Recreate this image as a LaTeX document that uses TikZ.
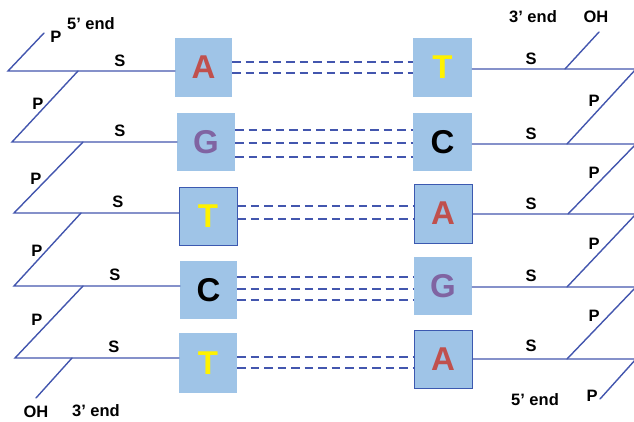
\documentclass[tikz,border=0pt]{standalone}
\usepackage{fontspec}
\setmainfont{Liberation Sans}
\definecolor{strandblue}{HTML}{4356AE}
\definecolor{boxblue}{HTML}{9FC4E7}
\definecolor{frameblue}{HTML}{3C59B0}
\definecolor{ared}{HTML}{C0504D}
\definecolor{gpurple}{HTML}{8064A2}
\definecolor{tyellow}{HTML}{FFF200}
\begin{document}
\begin{tikzpicture}[x=1pt,y=-1pt,
  strand/.style={draw=strandblue, line width=1.4pt, line cap=round},
  hbond/.style={draw=strandblue, line width=1.4pt, dash pattern=on 8.5pt off 5pt},
  base/.style={fill=boxblue, minimum width=58pt, minimum height=58pt, inner sep=0pt,
    font=\bfseries\fontsize{33}{33}\selectfont},
  framed/.style={draw=frameblue, line width=0.9pt},
  lbl/.style={font=\bfseries\fontsize{16.5}{16.5}\selectfont, inner sep=0pt}]
\useasboundingbox (0,0) rectangle (634,422);

% base boxes
\node[base, text=ared, minimum width=57pt, minimum height=59pt] (L1) at (203.5,67.5) {A};
\node[base, text=gpurple] (L2) at (206,142) {G};
\node[base, framed, text=tyellow] (L3) at (208,216) {T};
\node[base, text=black, minimum width=57pt] (L4) at (208.5,290) {C};
\node[base, text=tyellow, minimum height=60pt] (L5) at (208,363) {T};
\node[base, text=tyellow, minimum width=59pt, minimum height=59pt] (R1) at (442.5,67.5) {T};
\node[base, text=black, minimum width=59pt] (R2) at (442.5,142) {C};
\node[base, framed, text=ared, minimum height=59pt] (R3) at (443,213.5) {A};
\node[base, text=gpurple] (R4) at (443,286) {G};
\node[base, framed, text=ared] (R5) at (443,359) {A};

% left strand coordinates
\coordinate (a0) at (44,33);
\coordinate (a1s) at (8,71);   \coordinate (a1j) at (78,71);
\coordinate (a2s) at (12,142); \coordinate (a2j) at (83,142);
\coordinate (a3s) at (14,213); \coordinate (a3j) at (81,213);
\coordinate (a4s) at (14,286); \coordinate (a4j) at (83,286);
\coordinate (a5s) at (15,358); \coordinate (a5j) at (72,358);
\coordinate (a6) at (36,398);

\draw[strand] (a0) -- (a1s) -- (L1.west |- a1s);
\draw[strand] (a1j) -- (a2s) -- (L2.west |- a2s);
\draw[strand] (a2j) -- (a3s) -- (L3.west |- a3s);
\draw[strand] (a3j) -- (a4s) -- (L4.west |- a4s);
\draw[strand] (a4j) -- (a5s) -- (L5.west |- a5s);
\draw[strand] (a5j) -- (a6);

% right strand coordinates
\coordinate (b0) at (599,32);
\coordinate (b1e) at (636,69);  \coordinate (b1j) at (565,69);
\coordinate (b2e) at (636,144); \coordinate (b2j) at (567,144);
\coordinate (b3e) at (636,214); \coordinate (b3j) at (568,214);
\coordinate (b4e) at (636,287); \coordinate (b4j) at (567,287);
\coordinate (b5e) at (636,359); \coordinate (b5j) at (567,359);
\coordinate (b6) at (600,399);

\draw[strand] (R1.east |- b1e) -- (b1e) -- (b2j);
\draw[strand] (b1j) -- (b0);
\draw[strand] (R2.east |- b2e) -- (b2e) -- (b3j);
\draw[strand] (R3.east |- b3e) -- (b3e) -- (b4j);
\draw[strand] (R4.east |- b4e) -- (b4e) -- (b5j);
\draw[strand] (R5.east |- b5e) -- (b5e) -- (b6);

% hydrogen bonds
\foreach \y in {62,73} \draw[hbond] (L1.east |- 0,\y) -- (R1.west |- 0,\y);
\foreach \y in {130,143,157} \draw[hbond] (L2.east |- 0,\y) -- (R2.west |- 0,\y);
\foreach \y in {206,219} \draw[hbond] (L3.east |- 0,\y) -- (R3.west |- 0,\y);
\foreach \y in {277,289,300} \draw[hbond] (L4.east |- 0,\y) -- (R4.west |- 0,\y);
\foreach \y in {357,368} \draw[hbond] (L5.east |- 0,\y) -- (R5.west |- 0,\y);

% end labels
\node[lbl] (p0) at (56,37) {P};
\node[lbl] (e5l) at (91,24) {5’ end};
\node[lbl] (e3r) at (533,17) {3’ end};
\node[lbl] (ohr) at (596,17) {OH};
\node[lbl] (ohl) at (36,412) {OH};
\node[lbl] (e3l) at (96,411) {3’ end};
\node[lbl] (e5r) at (535,400) {5’ end};
\node[lbl] (p6) at (592,396) {P};

% left P labels
\node[lbl] (lp1) at (38,104) {P};
\node[lbl] (lp2) at (36,179) {P};
\node[lbl] (lp3) at (37,251) {P};
\node[lbl] (lp4) at (37,320) {P};
% left S labels
\node[lbl] (ls1) at (120,61) {S};
\node[lbl] (ls2) at (120,131) {S};
\node[lbl] (ls3) at (118,202) {S};
\node[lbl] (ls4) at (115,275) {S};
\node[lbl] (ls5) at (114,347) {S};
% right P labels
\node[lbl] (rp1) at (594,101) {P};
\node[lbl] (rp2) at (594,173) {P};
\node[lbl] (rp3) at (594,244) {P};
\node[lbl] (rp4) at (594,316) {P};
% right S labels
\node[lbl] (rs1) at (531,59) {S};
\node[lbl] (rs2) at (531,134) {S};
\node[lbl] (rs3) at (531,204) {S};
\node[lbl] (rs4) at (531,276) {S};
\node[lbl] (rs5) at (531,346) {S};
\end{tikzpicture}
\end{document}
